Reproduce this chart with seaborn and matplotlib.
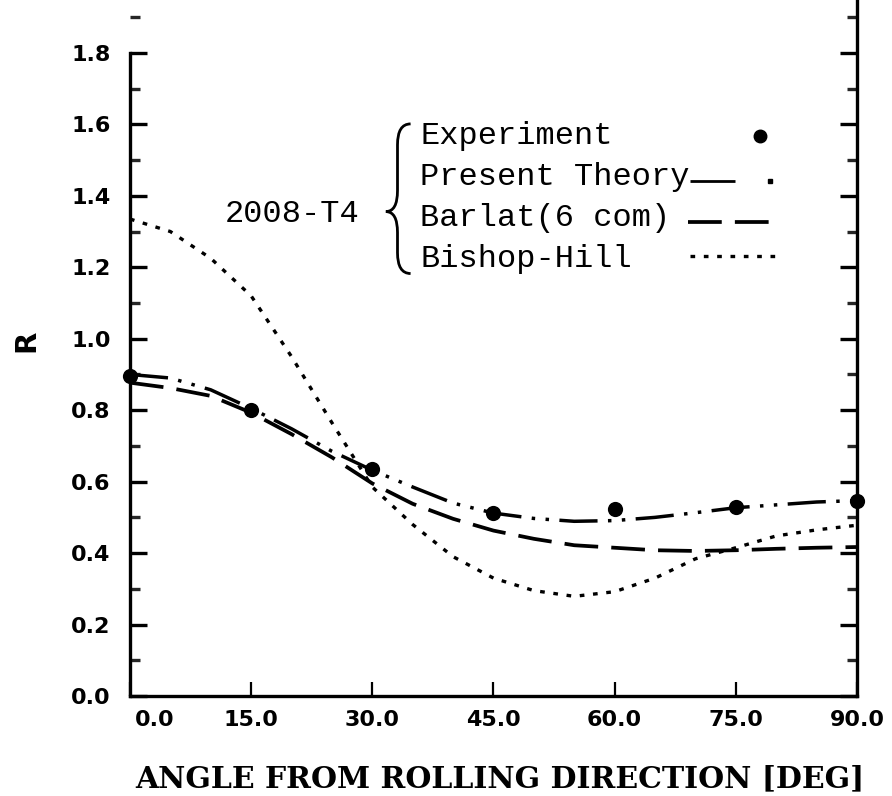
import numpy as np
import pandas as pd
import matplotlib
matplotlib.use("Agg")
import matplotlib.pyplot as plt
from matplotlib.path import Path
from matplotlib.patches import PathPatch
from matplotlib.transforms import ScaledTranslation
import seaborn as sns

# Measured r-values of 2008-T4 sheet
exp_angle = [0, 15, 30, 45, 60, 75, 90]
exp_r = [0.895, 0.80, 0.635, 0.513, 0.524, 0.528, 0.547]

# Model predictions, tabulated every 5 degrees
model_angle = [0, 5, 10, 15, 20, 25, 30, 35, 40, 45, 50, 55, 60, 65, 70, 75, 80, 85, 90]
r_present = [0.900, 0.890, 0.857, 0.805, 0.748, 0.685, 0.632, 0.585, 0.540, 0.512,
             0.497, 0.489, 0.491, 0.500, 0.513, 0.527, 0.535, 0.543, 0.547]
r_barlat = [0.877, 0.862, 0.840, 0.793, 0.733, 0.668, 0.595, 0.538, 0.496, 0.463,
            0.440, 0.422, 0.415, 0.408, 0.406, 0.408, 0.412, 0.415, 0.417]
r_bishop = [1.335, 1.300, 1.225, 1.120, 0.950, 0.765, 0.585, 0.480, 0.390, 0.330,
            0.295, 0.279, 0.292, 0.330, 0.384, 0.415, 0.448, 0.465, 0.478]

x_ticks = [0, 15, 30, 45, 60, 75, 90]
x_tick_labels = ["0.0", "15.0", "30.0", "45.0", "60.0", "75.0", "90.0"]
y_major = [0.0, 0.2, 0.4, 0.6, 0.8, 1.0, 1.2, 1.4, 1.6, 1.8]
y_tick_labels = ["0.0", "0.2", "0.4", "0.6", "0.8", "1.0", "1.2", "1.4", "1.6", "1.8"]
y_minor = [0.1, 0.3, 0.5, 0.7, 0.9, 1.1, 1.3, 1.5, 1.7, 1.9]

legend_labels = ["Experiment", "Present Theory", "Barlat(6 com)", "Bishop-Hill"]
alloy = "2008-T4"

sns.set_theme(style="white")
plt.rcParams["font.family"] = ["DejaVu Sans"]

fig = plt.figure(figsize=(8.92, 7.96), dpi=100)
ax = fig.add_axes([0.1457, 0.1256, 0.815, 0.8744])

models = pd.DataFrame({"angle": model_angle, "present": r_present,
                       "barlat": r_barlat, "bishop": r_bishop})
exp_df = pd.DataFrame({"angle": exp_angle, "r": exp_r})

style_present = dict(color="black", lw=2.5, linestyle=(0, (11, 3, 1, 3, 1, 3)))
style_barlat = dict(color="black", lw=2.7, linestyle=(0, (9, 3.5)))
style_bishop = dict(color="black", lw=2.4, linestyle=(0, (1.4, 2.6)))

sns.lineplot(data=models, x="angle", y="bishop", ax=ax, **style_bishop)
sns.lineplot(data=models, x="angle", y="barlat", ax=ax, **style_barlat)
sns.lineplot(data=models, x="angle", y="present", ax=ax, **style_present)
sns.scatterplot(data=exp_df, x="angle", y="r", ax=ax, color="black", s=120,
                edgecolor="black", linewidth=0, zorder=5, clip_on=False)

ax.set_xlim(0, 90)
ax.set_ylim(0, 1.948)

# axes frame
for side in ["left", "right", "bottom"]:
    ax.spines[side].set_visible(True)
    ax.spines[side].set_color("black")
    ax.spines[side].set_linewidth(2.4)
ax.spines["top"].set_visible(False)
ax.spines["left"].set_bounds(0, 1.8)

ax.set_xticks(x_ticks)
ax.set_xticklabels(x_tick_labels)
ax.set_yticks(y_major)
ax.set_yticklabels(y_tick_labels)
ax.set_yticks(y_minor, minor=True)
ax.tick_params(axis="x", which="major", direction="in", length=10, width=1.6,
               bottom=True, top=False, pad=10, labelsize=16, colors="black")
ax.tick_params(axis="y", which="major", direction="in", length=12, width=2.4,
               left=True, right=True, pad=14, labelsize=16, colors="black")
ax.tick_params(axis="y", which="minor", direction="in", length=7, width=2.4,
               left=True, right=True)
for lab in ax.get_xticklabels() + ax.get_yticklabels():
    lab.set_fontweight("bold")
# the first angle label sits just right of the corner
first = ax.get_xticklabels()[0]
first.set_transform(first.get_transform() + ScaledTranslation(25 / 100, 0, fig.dpi_scale_trans))

ax.set_xlabel("ANGLE FROM ROLLING DIRECTION [DEG]", fontsize=21.5,
              fontfamily="DejaVu Serif", fontweight="bold", color="black")
ax.xaxis.set_label_coords(0.509, -0.098)
ax.set_ylabel("R", fontsize=21, fontweight="bold", color="black",
              va="center", ha="center")
ax.yaxis.set_label_coords(-0.143, 0.51)

# legend block with brace
tx = 0.399
rows = [0.8045, 0.745, 0.6865, 0.6275]
legend_font = dict(fontsize=23, fontfamily="Liberation Mono", color="black",
                   va="center", ha="left", transform=ax.transAxes)
for lab, yy in zip(legend_labels, rows):
    ax.text(tx, yy, lab, **legend_font)
ax.text(0.131, 0.693, alloy, **legend_font)

ax.plot([0.8666], [rows[0]], "o", color="black", ms=9, transform=ax.transAxes)
ax.plot([0.770, 0.832], [rows[1] - 0.005] * 2, color="black", lw=2.0,
        transform=ax.transAxes, solid_capstyle="butt")
ax.plot([0.880], [rows[1] - 0.005], "s", color="black", ms=3, transform=ax.transAxes)
ax.plot([0.7675, 0.887], [rows[2] - 0.005] * 2, transform=ax.transAxes,
        **style_barlat)
ax.plot([0.770, 0.887], [rows[3] + 0.005] * 2, transform=ax.transAxes,
        **style_bishop)

xr, xm, xc = 0.386, 0.368, 0.352
yt, yb, yc = 0.822, 0.607, 0.696
d = 0.03
verts = [(xr, yt), (xm, yt), (xm, yt - d),
         (xm, yc + d),
         (xm, yc), (xc, yc),
         (xm, yc), (xm, yc - d),
         (xm, yb + d),
         (xm, yb), (xr, yb)]
codes = [Path.MOVETO, Path.CURVE3, Path.CURVE3,
         Path.LINETO,
         Path.CURVE3, Path.CURVE3,
         Path.CURVE3, Path.CURVE3,
         Path.LINETO,
         Path.CURVE3, Path.CURVE3]
ax.add_patch(PathPatch(Path(verts, codes), fill=False, lw=2.0, edgecolor="black",
                       transform=ax.transAxes))

fig.savefig("out.png", dpi=100, facecolor="white")
